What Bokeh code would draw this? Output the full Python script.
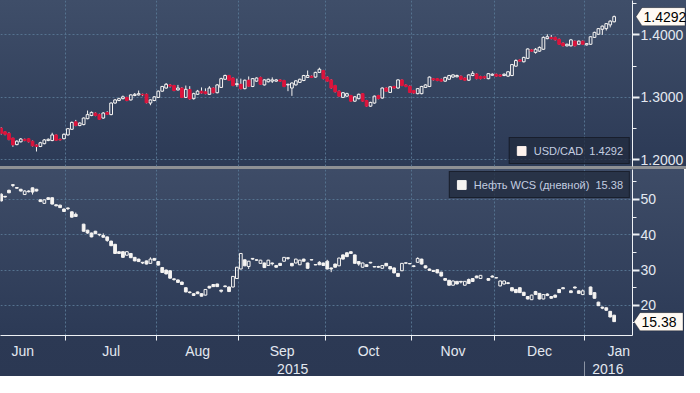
import math
from bokeh.plotting import figure
from bokeh.models import (Range1d, FixedTicker, LinearAxis, Grid, Legend, LegendItem,
                          Label, PolyAnnotation)
from bokeh.layouts import column, row
from bokeh.embed import file_html
from bokeh.resources import INLINE

FONT = "Liberation Sans"

# trading-day index: 0 = 8 Jun 2015 ... 156 = 12 Jan 2016
DAY = list(range(157))

USDCAD_OPEN = [
    1.2510, 1.2450, 1.2425, 1.2350, 1.2245, 1.2290, 1.2330, 1.2340, 1.2300, 1.2240,
    1.2215, 1.2260, 1.2310, 1.2310, 1.2400, 1.2330, 1.2340, 1.2400, 1.2490, 1.2610,
    1.2550, 1.2565, 1.2660, 1.2710, 1.2750, 1.2725, 1.2670, 1.2760, 1.2725, 1.2910,
    1.2950, 1.2980, 1.3000, 1.2960, 1.3030, 1.3040, 1.3050, 1.3050, 1.2910, 1.2950,
    1.3000, 1.3100, 1.3150, 1.3200, 1.3190, 1.3120, 1.3150, 1.3000, 1.3125, 1.2980,
    1.3050, 1.3100, 1.3090, 1.3050, 1.3150, 1.3075, 1.3160, 1.3290, 1.3350, 1.3310,
    1.3205, 1.3210, 1.3140, 1.3275, 1.3175, 1.3260, 1.3320, 1.3200, 1.3250, 1.3260,
    1.3260, 1.3280, 1.3270, 1.3200, 1.3150, 1.3200, 1.3240, 1.3270, 1.3320, 1.3340,
    1.3325, 1.3400, 1.3430, 1.3325, 1.3280, 1.3190, 1.3100, 1.3000, 1.3020, 1.3030,
    1.2940, 1.2980, 1.3060, 1.2950, 1.2860, 1.2910, 1.3030, 1.2990, 1.3150, 1.3080,
    1.3175, 1.3150, 1.3280, 1.3200, 1.3180, 1.3110, 1.3060, 1.3060, 1.3160, 1.3175,
    1.3300, 1.3300, 1.3290, 1.3260, 1.3290, 1.3325, 1.3330, 1.3340, 1.3310, 1.3275,
    1.3350, 1.3375, 1.3335, 1.3335, 1.3300, 1.3355, 1.3370, 1.3360, 1.3350, 1.3340,
    1.3350, 1.3500, 1.3600, 1.3570, 1.3625, 1.3760, 1.3720, 1.3740, 1.3770, 1.3940,
    1.3960, 1.3960, 1.3930, 1.3870, 1.3825, 1.3825, 1.3900, 1.3850, 1.3900, 1.3840,
    1.3850, 1.3960, 1.4010, 1.4090, 1.4100, 1.4160, 1.4210]
USDCAD_HIGH = [
    1.2525, 1.2460, 1.2440, 1.2355, 1.2315, 1.2350, 1.2340, 1.2350, 1.2310, 1.2250,
    1.2290, 1.2335, 1.2345, 1.2435, 1.2410, 1.2340, 1.2425, 1.2510, 1.2615, 1.2640,
    1.2600, 1.2680, 1.2790, 1.2775, 1.2760, 1.2740, 1.2765, 1.2780, 1.2920, 1.2975,
    1.2995, 1.3030, 1.3010, 1.3050, 1.3070, 1.3110, 1.3060, 1.3060, 1.2970, 1.3020,
    1.3110, 1.3185, 1.3230, 1.3215, 1.3200, 1.3200, 1.3165, 1.3190, 1.3180, 1.3075,
    1.3120, 1.3160, 1.3145, 1.3180, 1.3160, 1.3215, 1.3315, 1.3365, 1.3360, 1.3320,
    1.3300, 1.3300, 1.3285, 1.3335, 1.3310, 1.3320, 1.3330, 1.3290, 1.3300, 1.3320,
    1.3295, 1.3290, 1.3280, 1.3220, 1.3240, 1.3275, 1.3300, 1.3360, 1.3430, 1.3350,
    1.3410, 1.3475, 1.3440, 1.3335, 1.3290, 1.3200, 1.3110, 1.3085, 1.3075, 1.3040,
    1.3020, 1.3060, 1.3070, 1.2960, 1.2930, 1.3030, 1.3040, 1.3160, 1.3160, 1.3180,
    1.3185, 1.3290, 1.3290, 1.3210, 1.3190, 1.3120, 1.3150, 1.3185, 1.3210, 1.3335,
    1.3310, 1.3310, 1.3300, 1.3330, 1.3360, 1.3370, 1.3365, 1.3350, 1.3320, 1.3370,
    1.3420, 1.3385, 1.3345, 1.3345, 1.3390, 1.3385, 1.3380, 1.3370, 1.3385, 1.3420,
    1.3535, 1.3610, 1.3610, 1.3650, 1.3785, 1.3770, 1.3790, 1.3815, 1.3975, 1.4010,
    1.4000, 1.3970, 1.3940, 1.3880, 1.3860, 1.3935, 1.3910, 1.3910, 1.3910, 1.3870,
    1.3980, 1.4050, 1.4110, 1.4150, 1.4190, 1.4235, 1.4310]
USDCAD_LOW = [
    1.2405, 1.2395, 1.2315, 1.2210, 1.2235, 1.2280, 1.2300, 1.2280, 1.2215, 1.2135,
    1.2205, 1.2250, 1.2300, 1.2300, 1.2305, 1.2310, 1.2330, 1.2390, 1.2480, 1.2540,
    1.2540, 1.2555, 1.2650, 1.2700, 1.2700, 1.2640, 1.2660, 1.2720, 1.2715, 1.2900,
    1.2940, 1.2970, 1.2940, 1.2950, 1.3020, 1.3030, 1.3020, 1.2905, 1.2875, 1.2940,
    1.2990, 1.3090, 1.3140, 1.3160, 1.3100, 1.3110, 1.2990, 1.2990, 1.2965, 1.2965,
    1.3040, 1.3060, 1.3050, 1.3040, 1.3065, 1.3065, 1.3150, 1.3280, 1.3265, 1.3180,
    1.3170, 1.3130, 1.3130, 1.3170, 1.3165, 1.3250, 1.3200, 1.3190, 1.3240, 1.3230,
    1.3250, 1.3250, 1.3165, 1.3100, 1.3025, 1.3190, 1.3230, 1.3260, 1.3310, 1.3310,
    1.3315, 1.3390, 1.3290, 1.3250, 1.3140, 1.3080, 1.3010, 1.2990, 1.3010, 1.2930,
    1.2930, 1.2970, 1.2930, 1.2850, 1.2850, 1.2900, 1.2970, 1.2980, 1.3090, 1.3070,
    1.3140, 1.3140, 1.3180, 1.3165, 1.3070, 1.3060, 1.3050, 1.3050, 1.3150, 1.3165,
    1.3270, 1.3260, 1.3250, 1.3250, 1.3280, 1.3315, 1.3320, 1.3280, 1.3265, 1.3265,
    1.3340, 1.3290, 1.3290, 1.3300, 1.3290, 1.3345, 1.3330, 1.3330, 1.3340, 1.3330,
    1.3340, 1.3490, 1.3570, 1.3560, 1.3615, 1.3730, 1.3700, 1.3730, 1.3760, 1.3930,
    1.3930, 1.3910, 1.3840, 1.3815, 1.3815, 1.3815, 1.3815, 1.3840, 1.3840, 1.3830,
    1.3840, 1.3950, 1.4000, 1.4000, 1.4070, 1.4120, 1.4200]
USDCAD_CLOSE = [
    1.2425, 1.2410, 1.2325, 1.2240, 1.2300, 1.2335, 1.2310, 1.2290, 1.2225, 1.2215,
    1.2275, 1.2320, 1.2330, 1.2400, 1.2315, 1.2320, 1.2410, 1.2500, 1.2600, 1.2550,
    1.2590, 1.2670, 1.2725, 1.2760, 1.2710, 1.2650, 1.2750, 1.2730, 1.2910, 1.2960,
    1.2980, 1.3010, 1.2950, 1.3040, 1.3050, 1.3060, 1.3040, 1.2915, 1.2960, 1.3010,
    1.3100, 1.3175, 1.3210, 1.3180, 1.3110, 1.3150, 1.3000, 1.3130, 1.2975, 1.3060,
    1.3100, 1.3070, 1.3060, 1.3150, 1.3075, 1.3200, 1.3300, 1.3350, 1.3275, 1.3190,
    1.3220, 1.3140, 1.3275, 1.3180, 1.3300, 1.3310, 1.3210, 1.3280, 1.3290, 1.3280,
    1.3280, 1.3260, 1.3175, 1.3210, 1.3230, 1.3265, 1.3290, 1.3350, 1.3350, 1.3320,
    1.3400, 1.3450, 1.3300, 1.3260, 1.3150, 1.3090, 1.3020, 1.3075, 1.3060, 1.2940,
    1.3010, 1.3050, 1.2940, 1.2860, 1.2920, 1.3020, 1.2980, 1.3150, 1.3100, 1.3170,
    1.3150, 1.3280, 1.3190, 1.3175, 1.3080, 1.3070, 1.3140, 1.3175, 1.3200, 1.3325,
    1.3280, 1.3270, 1.3260, 1.3320, 1.3350, 1.3360, 1.3350, 1.3290, 1.3275, 1.3360,
    1.3385, 1.3300, 1.3300, 1.3310, 1.3380, 1.3370, 1.3340, 1.3340, 1.3370, 1.3410,
    1.3525, 1.3590, 1.3580, 1.3640, 1.3775, 1.3740, 1.3770, 1.3800, 1.3960, 1.3970,
    1.3940, 1.3920, 1.3850, 1.3825, 1.3850, 1.3920, 1.3825, 1.3900, 1.3850, 1.3860,
    1.3970, 1.4040, 1.4100, 1.4140, 1.4180, 1.4220, 1.4292]

# WCS oil (None = no quote that day)
WCS_OPEN = [
    51.5, 50.9, 52.6, 54.2, 53.4, 52.9, 51.4, 52.4, 53.3, 52.9,
    49.9, 48.9, 50.5, 50.5, 48.5, 48.4, 47.3, 47.6, 46.5, 45.8,
    None, 43.0, 41.3, 40.5, 41.0, 40.15, 39.8, 39.4, 38.2, 37.3,
    35.2, 35.2, 34.2, 34.7, 33.6, 33.1, 32.2, 32.6, 31.9, 33.3,
    32.4, 30.7, 30.0, 29.8, 27.5, 27.2, 26.6, 25.0, 23.8, 23.3,
    23.8, 23.3, 22.9, 25.4, 25.9, 26.05, 24.3, 25.5, 25.2, 25.2,
    27.6, 30.3, 32.9, 31.0, 33.3, 32.9, 31.9, 32.0, 31.3, 32.0,
    31.3, 31.9, 32.5, 33.5, 31.9, 32.0, 31.5, 33.1, 32.0, 32.95,
    31.55, 32.2, 32.0, 32.5, 30.6, 31.7, 31.2, 34.3, 34.9, 35.2,
    34.3, 32.4, 30.8, 31.5, 32.2, 31.0, 31.0, 30.5, 31.9, 31.0,
    30.6, 29.05, 29.8, 32.05, 31.85, 31.2, 32.2, 33.1, 31.2, 30.3,
    29.9, 30.1, 29.4, 27.6, 27.1, 25.7, 26.8, 26.8, 25.7, 27.3,
    27.6, 28.3, 27.6, None, 27.6, 28.3, 27.85, 25.5, 26.05, 26.4,
    25.0, 24.5, 25.0, 23.7, 22.5, 21.6, 23.9, 23.4, 21.8, 23.2,
    22.5, 22.9, 24.5, 25.0, None, 24.1, 25.2, 24.1, 23.05, None,
    25.2, 23.6, 20.9, 19.5, 19.3, 18.3, 17.2]
WCS_HIGH = [
    51.8, 51.0, 52.8, 54.3, 53.5, 53.0, 52.6, 52.6, 53.4, 53.0,
    50.0, 50.0, 50.6, 50.6, 48.6, 48.5, 47.4, 47.7, 46.6, 46.3,
    None, 43.1, 41.4, 40.6, 41.1, 40.2, 40.4, 39.5, 38.3, 37.4,
    35.3, 35.3, 35.3, 34.8, 33.7, 33.2, 32.3, 32.7, 33.6, 33.4,
    32.5, 30.8, 30.1, 29.9, 27.6, 27.3, 26.7, 25.1, 23.9, 23.4,
    23.9, 23.4, 24.6, 25.5, 26.0, 26.1, 24.4, 25.6, 25.3, 28.3,
    30.9, 34.8, 33.0, 32.6, 33.4, 33.0, 32.9, 32.1, 32.9, 32.1,
    31.4, 32.0, 33.7, 33.6, 32.0, 33.2, 32.9, 33.2, 32.1, 33.0,
    31.6, 32.5, 32.1, 32.9, 30.7, 31.8, 33.5, 34.4, 35.0, 35.3,
    34.4, 32.5, 32.1, 31.6, 32.3, 31.05, 31.2, 31.4, 32.0, 31.1,
    30.7, 29.1, 32.0, 32.1, 31.9, 31.3, 33.6, 33.2, 31.3, 30.4,
    30.0, 30.2, 29.5, 27.7, 27.2, 27.0, 26.9, 26.9, 26.9, 27.6,
    27.7, 28.4, 28.6, None, 27.7, 28.5, 27.9, 27.0, 27.0, 26.5,
    25.1, 24.6, 25.1, 23.8, 22.6, 23.0, 24.1, 23.5, 23.1, 23.4,
    22.6, 23.0, 24.6, 25.1, None, 24.2, 25.3, 24.2, 24.5, None,
    25.3, 23.7, 21.0, 19.6, 19.4, 18.4, 17.3]
WCS_LOW = [
    49.4, 50.6, 51.8, 53.5, 53.1, 52.3, 51.3, 52.0, 51.4, 52.3,
    49.3, 48.8, 49.9, 48.6, 48.1, 47.6, 46.5, 47.0, 44.9, 45.1,
    None, 40.9, 40.3, 39.3, 40.2, 39.6, 39.2, 38.0, 36.8, 34.6,
    34.6, 33.5, 34.1, 33.4, 32.5, 32.3, 31.7, 31.6, 31.8, 32.7,
    31.3, 29.2, 28.8, 27.6, 27.0, 26.4, 25.8, 23.7, 23.4, 22.7,
    23.2, 22.5, 22.8, 24.8, 25.2, 25.2, 23.6, 25.1, 23.8, 25.1,
    27.5, 30.2, 31.1, 30.3, 32.9, 32.6, 31.8, 30.6, 31.2, 31.3,
    30.7, 31.2, 32.4, 32.9, 31.1, 31.9, 31.4, 32.4, 30.4, 32.8,
    31.4, 31.4, 31.2, 30.2, 29.4, 30.7, 31.1, 33.0, 33.7, 34.6,
    31.8, 31.2, 30.7, 30.9, 31.9, 30.8, 30.6, 30.4, 31.1, 30.2,
    29.1, 28.1, 29.7, 31.9, 31.7, 30.8, 32.1, 31.6, 30.5, 29.8,
    29.5, 29.1, 28.2, 27.0, 25.6, 25.6, 26.0, 26.2, 25.6, 26.1,
    26.7, 27.7, 27.5, None, 27.0, 27.9, 27.7, 25.4, 25.9, 26.0,
    24.0, 23.5, 23.5, 22.7, 21.7, 21.5, 23.0, 21.7, 21.7, 22.6,
    21.9, 22.2, 23.5, 24.6, None, 23.5, 24.8, 23.3, 22.9, None,
    22.9, 21.9, 19.8, 18.9, 18.5, 16.6, 15.3]
WCS_CLOSE = [
    49.6, 50.7, 51.9, 54.0, 53.2, 52.4, 52.4, 52.2, 52.1, 52.4,
    49.4, 49.9, 50.0, 48.7, 48.2, 47.7, 46.6, 47.4, 45.0, 45.2,
    None, 41.0, 40.5, 39.4, 40.3, 40.0, 39.3, 38.4, 36.9, 34.7,
    34.7, 33.6, 35.2, 33.5, 32.6, 32.4, 32.0, 31.7, 33.1, 32.8,
    31.4, 29.3, 28.9, 27.7, 27.3, 26.5, 25.9, 23.8, 23.6, 22.8,
    23.3, 22.6, 24.5, 24.9, 25.3, 25.3, 24.0, 25.3, 23.9, 28.2,
    30.8, 34.7, 31.2, 32.5, 33.1, 32.8, 32.8, 30.7, 32.8, 31.8,
    30.8, 31.3, 33.6, 33.3, 31.2, 33.1, 32.8, 32.5, 30.5, 32.85,
    31.45, 31.5, 31.3, 30.3, 30.3, 30.8, 33.4, 33.1, 33.8, 34.7,
    31.9, 31.7, 32.0, 31.0, 32.0, 30.85, 30.8, 31.3, 31.2, 30.3,
    29.2, 28.2, 31.9, 31.95, 31.75, 31.0, 33.3, 31.7, 30.6, 29.9,
    29.6, 29.2, 28.3, 27.1, 25.7, 26.9, 26.05, 26.6, 26.8, 26.2,
    26.75, 27.8, 28.5, None, 27.1, 28.0, 27.75, 26.9, 26.9, 26.2,
    24.1, 23.6, 23.6, 22.8, 21.8, 22.9, 23.05, 21.8, 23.05, 22.8,
    22.0, 22.3, 23.6, 24.7, None, 23.6, 24.9, 23.4, 24.1, None,
    23.05, 22.0, 19.9, 19.2, 18.6, 16.7, 15.38]

MONTH_POS = [5.5, 28, 50, 71.5, 93.5, 115, 137, 157.2]
MONTH_LABELS = ["Jun", "Jul", "Aug", "Sep", "Oct", "Nov", "Dec", "Jan"]
MONTH_BOUNDS = [16.5, 39.5, 60.5, 82.5, 104.5, 125.5, 148.5]
YEAR_POS = [74.2, 154.4]
YEAR_LABELS = ["2015", "2016"]
YEAR_BOUNDS = [148.5]

TOP_TICKS = [1.2, 1.3, 1.4]
TOP_TICK_LABELS = ["1.2000", "1.3000", "1.4000"]
TOP_MINOR = [1.25, 1.35, 1.45]
BOT_TICKS = [20, 30, 40, 50]
BOT_TICK_LABELS = ["20", "30", "40", "50"]
BOT_MINOR = [15, 25, 35, 45, 55]

X_START, X_END = -0.154, 160.67
TOP_RANGE = (1.1895, 1.455)
BOT_RANGE = (11.45, 58.5)

FRAME_W = 632
FRAME_H = 166
AXIS_W = 52
BODY_W = 0.7

WHITE = "#f6f4f2"
RED = "#dc143c"
GRID = "#55728f"
AXIS = "#eef1f5"
TEXT = "#e3e8f0"
LEGEND_TEXT = "#c3cde0"
TAG_FILL = "#fffaf4"

for arr in (USDCAD_OPEN, USDCAD_HIGH, USDCAD_LOW, USDCAD_CLOSE,
            WCS_OPEN, WCS_HIGH, WCS_LOW, WCS_CLOSE):
    assert len(arr) == len(DAY), len(arr)


def candle_parts(opens, highs, lows, closes):
    up = {"x": [], "top": [], "bottom": []}
    dn = {"x": [], "top": [], "bottom": []}
    wk = {"x": [], "y0": [], "y1": []}
    for x, o, h, l, c in zip(DAY, opens, highs, lows, closes):
        if o is None:
            continue
        hi_body, lo_body = max(o, c), min(o, c)
        wk["x"] += [x, x]
        wk["y0"] += [hi_body, lo_body]
        wk["y1"] += [h, l]
        side = up if c >= o else dn
        side["x"].append(x)
        side["top"].append(hi_body)
        side["bottom"].append(lo_body)
    return up, dn, wk


def make_fig(y_range, bottom_border, x_loc, gradient, x_range=None):
    p = figure(frame_width=FRAME_W, frame_height=FRAME_H,
               x_range=x_range if x_range is not None else Range1d(X_START, X_END),
               y_range=y_range,
               toolbar_location=None, output_backend="svg",
               x_axis_location=x_loc, y_axis_location="right",
               min_border_left=0, min_border_right=AXIS_W, min_border_top=0,
               min_border_bottom=bottom_border)
    p.background_fill_alpha = 0
    p.border_fill_alpha = 0
    p.outline_line_color = None
    p.center = [r for r in p.center if not isinstance(r, Grid)]
    p.styles = {"background": gradient}
    return p


def style_yaxis(ax, ticks, labels, minor):
    ax.ticker = FixedTicker(ticks=ticks, minor_ticks=minor)
    ax.major_label_overrides = dict(zip(ticks, labels))
    ax.axis_line_color = AXIS
    ax.major_tick_line_color = AXIS
    ax.major_tick_line_width = 2
    ax.major_tick_out = 7
    ax.major_tick_in = 0
    ax.minor_tick_line_color = AXIS
    ax.minor_tick_out = 4
    ax.minor_tick_in = 0
    ax.major_label_standoff = 1
    ax.major_label_text_font = FONT
    ax.major_label_text_font_size = "14px"
    ax.major_label_text_color = TEXT


def add_grids(p, yticks):
    p.add_layout(Grid(dimension=0, ticker=FixedTicker(ticks=MONTH_BOUNDS),
                      grid_line_color=GRID, grid_line_dash="2 2"))
    p.add_layout(Grid(dimension=1, ticker=FixedTicker(ticks=yticks),
                      grid_line_color=GRID, grid_line_dash="2 2"))


def tag_fig(y_range, value, text, px_per_unit):
    """Transparent strip laid over the axis area that carries the last-value tag."""
    t = figure(frame_width=AXIS_W, frame_height=FRAME_H,
               x_range=Range1d(0, AXIS_W), y_range=y_range,
               toolbar_location=None, output_backend="svg",
               x_axis_location=None, y_axis_location=None,
               min_border_left=0, min_border_right=0, min_border_top=0,
               min_border_bottom=0)
    t.background_fill_alpha = 0
    t.border_fill_alpha = 0
    t.outline_line_color = None
    t.center = [r for r in t.center if not isinstance(r, Grid)]
    t.styles = {"margin-left": f"-{AXIS_W}px"}
    half = 9 / px_per_unit
    t.add_layout(PolyAnnotation(xs=[1.5, 7.5, 50.5, 50.5, 7.5],
                                ys=[value, value + half, value + half, value - half, value - half],
                                fill_color=TAG_FILL, fill_alpha=1,
                                line_color="black", line_width=1))
    t.add_layout(Label(x=9, y=value, text=text, text_font=FONT, text_font_size="14px",
                       text_color="black", text_baseline="middle", text_align="left"))
    return t


def style_legend(leg, loc):
    leg.location = loc
    leg.margin = 2
    leg.padding = 6
    leg.spacing = 0
    leg.glyph_width = 11
    leg.glyph_height = 11
    leg.label_height = 13
    leg.label_standoff = 7
    leg.label_text_font = FONT
    leg.label_text_font_size = "11px"
    leg.label_text_color = LEGEND_TEXT
    leg.background_fill_color = "#222b3e"
    leg.background_fill_alpha = 0.75
    leg.border_line_color = "#0b0e14"
    leg.border_line_width = 1.5


# ---------- top panel: USD/CAD ----------
top_y = Range1d(*TOP_RANGE)
p1 = make_fig(top_y, 3, None,
              f"linear-gradient(180deg, #3f4e69 0px, #2c3a56 {FRAME_H}px, "
              f"#8e9094 {FRAME_H}px, #8e9094 {FRAME_H + 3}px)")
style_yaxis(p1.yaxis[0], TOP_TICKS, TOP_TICK_LABELS, TOP_MINOR)
add_grids(p1, TOP_TICKS)

up, dn, wk = candle_parts(USDCAD_OPEN, USDCAD_HIGH, USDCAD_LOW, USDCAD_CLOSE)
p1.segment(x0=wk["x"], x1=wk["x"], y0=wk["y0"], y1=wk["y1"], line_color=WHITE, line_width=1)
p1.vbar(x=up["x"], top=up["top"], bottom=up["bottom"], width=BODY_W,
        fill_alpha=0, line_color=WHITE, line_width=1)
p1.vbar(x=dn["x"], top=dn["top"], bottom=dn["bottom"], width=BODY_W,
        fill_color=RED, line_color=RED, line_width=1)
key1 = p1.quad(left=[math.nan], right=[math.nan], top=[math.nan], bottom=[math.nan],
               fill_color="#fff3ee", line_color="#fff3ee")
leg1 = Legend(items=[LegendItem(label=f"USD/CAD  {USDCAD_CLOSE[-1]:.4f}", renderers=[key1])])
style_legend(leg1, "bottom_right")
p1.add_layout(leg1)
t1 = tag_fig(top_y, USDCAD_CLOSE[-1], f"{USDCAD_CLOSE[-1]:.4f}",
             FRAME_H / (TOP_RANGE[1] - TOP_RANGE[0]))

# ---------- bottom panel: WCS ----------
bot_y = Range1d(*BOT_RANGE)
p2 = make_fig(bot_y, 20, "below",
              f"linear-gradient(180deg, #3e4c67 0px, #2c3a56 {FRAME_H}px, "
              f"#2c3954 {FRAME_H}px, #2b3853 100%)", x_range=p1.x_range)
style_yaxis(p2.yaxis[0], BOT_TICKS, BOT_TICK_LABELS, BOT_MINOR)
add_grids(p2, BOT_TICKS)

mx = p2.xaxis[0]
mx.ticker = FixedTicker(ticks=MONTH_POS, minor_ticks=MONTH_BOUNDS)
mx.major_label_overrides = dict(zip(MONTH_POS, MONTH_LABELS))
mx.axis_line_color = AXIS
mx.major_tick_line_color = None
mx.major_tick_out = 0
mx.major_tick_in = 0
mx.minor_tick_line_color = AXIS
mx.minor_tick_out = 5
mx.minor_tick_in = 0
mx.major_label_standoff = 2
mx.major_label_text_font = FONT
mx.major_label_text_font_size = "14px"
mx.major_label_text_color = TEXT

yx = LinearAxis(ticker=FixedTicker(ticks=YEAR_POS, minor_ticks=YEAR_BOUNDS))
yx.major_label_overrides = dict(zip(YEAR_POS, YEAR_LABELS))
yx.axis_line_color = None
yx.major_tick_line_color = None
yx.major_tick_out = 0
yx.major_tick_in = 0
yx.minor_tick_line_color = "#8b94a4"
yx.minor_tick_out = 18
yx.minor_tick_in = 0
yx.major_label_standoff = -16
yx.major_label_text_font = FONT
yx.major_label_text_font_size = "14px"
yx.major_label_text_color = TEXT
p2.add_layout(yx, "below")

up2, dn2, wk2 = candle_parts(WCS_OPEN, WCS_HIGH, WCS_LOW, WCS_CLOSE)
p2.segment(x0=wk2["x"], x1=wk2["x"], y0=wk2["y0"], y1=wk2["y1"], line_color=WHITE, line_width=1)
p2.vbar(x=up2["x"], top=up2["top"], bottom=up2["bottom"], width=BODY_W,
        fill_alpha=0, line_color=WHITE, line_width=1)
body_dn2 = p2.vbar(x=dn2["x"], top=dn2["top"], bottom=dn2["bottom"], width=BODY_W,
                   fill_color=WHITE, line_color=WHITE, line_width=1)
leg2 = Legend(items=[LegendItem(label=f"Нефть WCS (дневной)  {WCS_CLOSE[-1]:.2f}",
                                renderers=[body_dn2])])
style_legend(leg2, "top_right")
p2.add_layout(leg2)
t2 = tag_fig(bot_y, WCS_CLOSE[-1], f"{WCS_CLOSE[-1]:.2f}",
             FRAME_H / (BOT_RANGE[1] - BOT_RANGE[0]))

layout = column(row(p1, t1, spacing=0), row(p2, t2, spacing=0), spacing=0)
open("out.html", "w").write(file_html(layout, INLINE))
